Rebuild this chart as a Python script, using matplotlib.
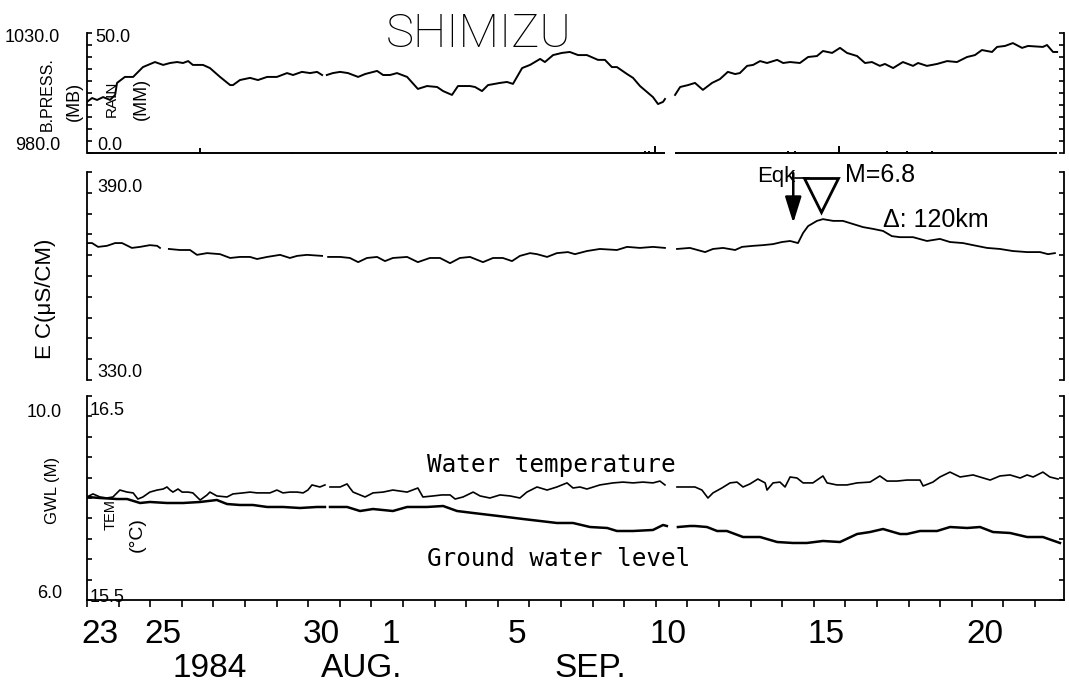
import matplotlib
matplotlib.use("Agg")
import matplotlib.pyplot as plt
import numpy as np

nan = float("nan")

# x = days since 1984 Aug 23 00h ; nan marks a gap in the record
press_pts = [(0.00,1001.3),(0.16,1002.9),(0.32,1002.1),(0.51,1003.3),(0.73,1002.1),(0.89,1004.2),(0.95,1009.2),
    (1.20,1011.7),(1.46,1011.7),(1.77,1015.8),(1.93,1016.7),(2.15,1017.9),(2.41,1016.7),(2.63,1017.5),(2.85,1017.9),
    (3.04,1017.5),(3.20,1018.3),(3.35,1016.7),(3.67,1016.7),(3.89,1015.4),(4.21,1011.7),(4.53,1008.3),(4.62,1008.3),
    (4.84,1010.4),(5.16,1011.3),(5.41,1010.4),(5.70,1011.7),(6.01,1011.7),(6.33,1013.3),(6.52,1012.5),(6.80,1013.8),
    (7.06,1013.3),(7.28,1013.8),(7.44,1012.5),(7.52,nan),(7.59,1012.5),(7.78,1013.3),(8.01,1013.8),(8.26,1013.3),
    (8.58,1011.7),(8.80,1012.9),(9.18,1014.2),(9.37,1012.5),(9.59,1012.5),(9.81,1013.3),(10.13,1011.7),(10.47,1006.7),
    (10.76,1007.9),(11.08,1007.5),(11.27,1005.8),(11.55,1004.2),(11.74,1007.9),(12.12,1007.9),(12.28,1007.5),
    (12.50,1005.8),(12.69,1008.3),(13.07,1009.2),(13.29,1009.6),(13.48,1008.8),(13.77,1015.4),(14.02,1016.7),
    (14.34,1019.2),(14.49,1017.9),(14.75,1020.8),(15.03,1021.7),(15.28,1022.1),(15.54,1020.8),(15.82,1020.8),
    (16.17,1018.8),(16.39,1018.8),(16.61,1015.8),(16.77,1015.8),(17.09,1012.9),(17.28,1011.3),(17.50,1007.9),
    (17.72,1005.4),(17.91,1003.3),(18.07,1000.4),(18.23,1001.3),(18.29,1002.5),(18.45,nan),(18.61,1004.2),
    (18.77,1007.5),(19.02,1008.3),(19.24,1009.2),(19.49,1006.3),(19.78,1009.2),(20.03,1010.8),(20.28,1013.8),
    (20.51,1012.9),(20.66,1013.3),(20.89,1016.3),(21.08,1016.7),(21.30,1018.3),(21.52,1017.5),(21.84,1018.8),
    (22.03,1017.5),(22.25,1017.9),(22.56,1017.5),(22.82,1020.0),(23.10,1020.4),(23.29,1022.5),(23.58,1021.7),
    (23.83,1023.8),(24.05,1021.7),(24.37,1020.4),(24.62,1017.5),(24.84,1017.9),(25.09,1016.3),(25.25,1017.1),
    (25.51,1015.4),(25.82,1017.9),(26.14,1016.3),(26.30,1017.5),(26.58,1016.3),(26.90,1017.1),(27.22,1018.3),
    (27.53,1017.9),(27.85,1020.0),(28.10,1020.8),(28.32,1022.9),(28.64,1022.1),(28.80,1024.2),(29.05,1024.6),
    (29.30,1025.8),(29.59,1023.8),(29.78,1024.6),(30.25,1024.2),(30.38,1025.0),(30.57,1022.1),(30.70,1022.1)]

rain_day = [3.58, 6.52, 17.66, 17.80, 17.97, 22.18, 22.41, 23.80, 25.32, 25.95, 26.74]
rain_mm = [2.0, 0.6, 0.8, 0.8, 3.0, 0.8, 0.8, 3.0, 0.8, 0.8, 0.8]
rain_rec_start = [0.0, 18.61]
rain_rec_end = [18.29, 30.70]

ec_pts = [(0.00,369.5),(0.16,369.5),(0.35,368.4),(0.63,368.7),(0.89,369.5),(1.11,369.5),(1.42,368.1),(1.68,368.4),
    (1.99,368.9),(2.22,368.7),(2.31,368.1),(2.45,nan),(2.59,367.8),(2.94,367.5),(3.26,367.5),(3.48,366.1),(3.80,366.6),
    (4.21,366.3),(4.53,365.2),(4.84,365.5),(5.16,365.5),(5.38,364.9),(5.70,365.5),(6.11,366.1),(6.42,365.2),(6.65,365.8),
    (6.96,366.1),(7.44,365.8),(7.53,nan),(7.63,365.5),(8.01,365.5),(8.32,365.2),(8.58,364.0),(8.86,365.2),(9.18,365.5),
    (9.43,364.3),(9.68,365.2),(10.13,365.5),(10.47,364.0),(10.85,365.2),(11.17,365.2),(11.49,363.7),(11.80,365.2),
    (12.12,365.5),(12.53,364.0),(12.85,365.2),(13.16,365.2),(13.45,364.3),(13.70,365.8),(14.02,366.6),(14.24,366.3),
    (14.56,365.5),(14.87,366.6),(15.22,366.9),(15.44,366.3),(15.82,367.2),(16.23,367.8),(16.77,367.5),(17.09,368.4),
    (17.50,368.1),(17.91,368.4),(18.29,368.1),(18.45,nan),(18.67,367.8),(19.08,368.1),(19.56,366.9),(19.81,367.8),
    (20.13,368.1),(20.51,367.5),(20.73,368.4),(21.08,368.7),(21.39,368.9),(21.71,369.2),(21.99,369.8),(22.25,370.1),
    (22.50,369.5),(22.66,372.4),(22.82,374.4),(23.10,375.9),(23.29,376.4),(23.61,375.9),(23.92,375.9),(24.24,375.0),
    (24.56,374.1),(24.87,373.6),(25.19,373.0),(25.47,371.5),(25.73,371.2),(26.14,371.2),(26.58,370.1),(26.99,370.7),
    (27.31,369.8),(27.72,369.5),(28.04,368.9),(28.48,368.1),(28.89,367.8),(29.30,367.2),(29.75,366.9),(30.16,366.9),
    (30.41,366.3),(30.63,366.6)]

temp_pts = [(0.00,16.005),(0.19,16.020),(0.41,16.005),(0.63,16.000),(0.82,16.005),(1.04,16.039),(1.27,16.029),
    (1.46,16.025),(1.61,15.995),(1.77,16.005),(1.99,16.029),(2.22,16.039),(2.41,16.044),(2.53,16.054),(2.63,16.039),
    (2.72,16.029),(2.88,16.044),(3.01,16.029),(3.20,16.029),(3.35,16.025),(3.58,15.990),(3.80,16.015),(3.89,16.029),
    (4.11,16.010),(4.43,16.005),(4.62,16.020),(4.94,16.025),(5.16,16.029),(5.38,16.025),(5.57,16.025),(5.79,16.025),
    (6.01,16.039),(6.20,16.025),(6.42,16.029),(6.65,16.029),(6.84,16.025),(6.99,16.039),(7.12,16.064),(7.37,16.054),
    (7.53,16.064),(7.61,nan),(7.69,16.054),(8.01,16.054),(8.23,16.069),(8.32,16.049),(8.42,16.029),(8.64,16.015),
    (8.80,16.005),(9.05,16.025),(9.37,16.029),(9.68,16.039),(10.13,16.029),(10.47,16.049),(10.63,16.005),(10.95,16.010),
    (11.23,16.015),(11.49,16.015),(11.65,15.995),(11.90,16.005),(12.22,16.029),(12.44,16.010),(12.75,16.000),
    (13.07,16.015),(13.39,16.010),(13.70,16.000),(13.92,16.029),(14.24,16.054),(14.56,16.039),(14.87,16.054),
    (15.19,16.074),(15.38,16.049),(15.60,16.054),(15.82,16.044),(16.23,16.064),(16.65,16.074),(16.96,16.078),
    (17.28,16.074),(17.59,16.078),(17.91,16.074),(18.13,16.083),(18.29,16.064),(18.45,nan),(18.67,16.054),
    (18.86,16.054),(19.24,16.054),(19.46,16.039),(19.65,16.000),(19.81,16.025),(20.09,16.049),(20.35,16.074),
    (20.57,16.078),(20.76,16.054),(20.98,16.069),(21.23,16.093),(21.46,16.074),(21.52,16.039),(21.71,16.074),
    (21.93,16.078),(22.09,16.054),(22.25,16.103),(22.47,16.098),(22.66,16.074),(22.97,16.074),(23.29,16.108),
    (23.42,16.074),(23.73,16.064),(24.05,16.064),(24.37,16.074),(24.78,16.078),(25.09,16.108),(25.32,16.083),
    (25.63,16.083),(25.95,16.088),(26.36,16.088),(26.46,16.059),(26.77,16.078),(26.99,16.103),(27.31,16.127),
    (27.63,16.103),(28.04,16.113),(28.58,16.088),(28.89,16.108),(29.21,16.113),(29.53,16.098),(29.75,16.113),
    (29.94,16.103),(30.25,16.127),(30.47,16.103),(30.73,16.093)]

gwl_pts = [(0.00,8.020),(0.41,8.000),(0.95,7.980),(1.27,7.980),(1.68,7.902),(1.99,7.922),(2.53,7.902),(3.04,7.902),
    (3.58,7.922),(4.11,7.961),(4.43,7.882),(4.84,7.863),(5.25,7.863),(5.70,7.824),(6.20,7.824),(6.74,7.804),(7.28,7.824),
    (7.53,7.824),(7.61,nan),(7.69,7.824),(8.01,7.824),(8.23,7.824),(8.64,7.745),(9.05,7.784),(9.68,7.745),(10.13,7.824),
    (10.76,7.824),(11.27,7.843),(11.71,7.745),(12.22,7.706),(12.75,7.667),(13.29,7.627),(13.80,7.588),(14.34,7.549),
    (14.87,7.510),(15.38,7.510),(15.92,7.431),(16.46,7.412),(16.77,7.353),(17.28,7.353),(17.91,7.373),(18.23,7.471),
    (18.35,7.451),(18.50,nan),(18.70,7.431),(19.08,7.451),(19.24,7.451),(19.62,7.431),(19.94,7.353),(20.25,7.353),
    (20.76,7.235),(21.30,7.235),(21.84,7.137),(22.34,7.118),(22.78,7.118),(23.29,7.157),(23.83,7.137),(24.37,7.294),
    (24.78,7.333),(25.19,7.392),(25.73,7.294),(25.95,7.294),(26.36,7.353),(26.90,7.353),(27.31,7.431),(27.85,7.412),
    (28.26,7.431),(28.67,7.333),(29.21,7.314),(29.75,7.235),(30.25,7.235),(30.79,7.118)]

eqk_day = 22.35            # 1984 Sep 14 earthquake, M 6.8
date_ticks = [0, 2, 7, 9, 13, 18, 23, 28]
date_labels = ["23", "25", "30", "1", "5", "10", "15", "20"]
month_labels = [("1984", 210), ("AUG.", 362), ("SEP.", 590)]

SANS = ['Liberation Sans', 'DejaVu Sans']
MONO = ['DejaVu Sans Mono']
plt.rcParams['font.family'] = SANS

W, H = 1069, 684
fig = plt.figure(figsize=(W / 100, H / 100), dpi=100)
X0, X1 = 87, 1064
XMAX = (X1 - X0) / 31.6


def rect(top, bottom):
    return [X0 / W, 1 - bottom / H, (X1 - X0) / W, (bottom - top) / H]


def ftext(x, y, s, **kw):
    fig.text(x / W, 1 - y / H, s, **kw)


ax1 = fig.add_axes(rect(33, 153))
ax2 = fig.add_axes(rect(172, 380))
ax3 = fig.add_axes(rect(396, 600))
ax1r = ax1.twinx()
ax3t = ax3.twinx()
for a in (ax1r, ax3t):
    a.set_axis_off()
ax1r.set_ylim(0, 50)
ax3t.set_ylim(15.5, 16.5)


def style(ax, ylo, yhi, step, bottom=False):
    ax.set_xlim(0, XMAX)
    ax.set_ylim(ylo, yhi)
    ax.spines['top'].set_visible(False)
    ax.spines['bottom'].set_visible(bottom)
    for s in ax.spines.values():
        s.set_linewidth(1.3)
    ax.set_yticks(np.arange(ylo, yhi + step / 2, step))
    ax.tick_params(axis='y', direction='in', left=True, right=True,
                   labelleft=False, labelright=False, length=3.5, width=1.2)
    if bottom:
        ax.set_xticks(np.arange(0, 31, 1))
        ax.tick_params(axis='x', direction='out', length=5, width=1.2, labelbottom=False)
    else:
        ax.tick_params(axis='x', bottom=False, labelbottom=False)
    ax.patch.set_visible(False)


style(ax1, 980, 1030, 5)
style(ax2, 330, 390, 6)
style(ax3, 6, 10, 0.4, bottom=True)
for a in (ax1r, ax3t):
    a.set_xlim(0, XMAX)

# data
pd_, pv_ = zip(*press_pts)
ax1.plot(pd_, pv_, color='k', lw=1.4)
ax1r.hlines([0] * len(rain_rec_start), rain_rec_start, rain_rec_end, color='k', lw=1.4, clip_on=False)
ax1r.vlines(rain_day, 0, rain_mm, color='k', lw=1.4)

ed_, ev_ = zip(*ec_pts)
ax2.plot(ed_, ev_, color='k', lw=1.3)

gd_, gv_ = zip(*gwl_pts)
ax3.plot(gd_, gv_, color='k', lw=1.8)
td_, tv_ = zip(*temp_pts)
ax3t.plot(td_, tv_, color='k', lw=1.2)

# earthquake annotation
ax2.annotate('', xy=(eqk_day, 375.3), xytext=(eqk_day, 389.7),
             arrowprops=dict(arrowstyle='-|>,head_length=0.8,head_width=0.25', color='k',
                             lw=1.8, mutation_scale=20, shrinkA=0, shrinkB=0))
ax2.plot([23.23], [383.4], marker='v', ms=24, mfc='none', mec='k', mew=2, clip_on=False)
ax2.plot([22.40, 22.85], [388.2, 388.2], color='k', lw=1.2, clip_on=False)
ftext(757, 182, "Eqk", fontsize=16, va='baseline')
ftext(845, 182, "M=6.8", fontsize=18, va='baseline')
ftext(883, 227, "Δ: 120km", fontsize=18, va='baseline')

# title
ftext(479, 47, "SHIMIZU", fontsize=34, family=['Roboto', 'DejaVu Sans'], fontweight='light',
      ha='center', va='baseline')

# panel 1 labels
lab = dict(fontsize=13, va='baseline')
ftext(60, 42, "1030.0", ha='right', **lab)
ftext(60, 150, "980.0", ha='right', **lab)
ftext(95, 42, "50.0", ha='left', **lab)
ftext(97, 150, "0.0", ha='left', **lab)
rot = dict(rotation=90, ha='center', va='center')
ftext(47, 94, "B.PRESS.", fontsize=11.5, **rot)
ftext(74, 101, "(MB)", fontsize=13, **rot)
ftext(112, 99, "RAIN", fontsize=11, **rot)
ftext(141, 99, "(MM)", fontsize=13, **rot)

# panel 2 labels
ftext(97, 192, "390.0", ha='left', **lab)
ftext(97, 377, "330.0", ha='left', **lab)
ftext(45, 299, "E C(μS/CM)", fontsize=16, **rot)

# panel 3 labels
ftext(62, 417, "10.0", ha='right', **lab)
ftext(62, 598, "6.0", ha='right', **lab)
ftext(90, 415, "16.5", ha='left', **lab)
ftext(90, 602, "15.5", ha='left', **lab)
ftext(52, 490, "GWL (M)", fontsize=12, **rot)
ftext(111, 515, "TEM", fontsize=10.5, **rot)
ftext(137, 535, "(°C)", fontsize=14, **rot)
ftext(427, 472, "Water temperature", fontsize=17.5, family=MONO, va='baseline')
ftext(427, 566, "Ground water level", fontsize=17.5, family=MONO, va='baseline')

# date axis labels
for d, s in zip(date_ticks, date_labels):
    off = 0.40 if len(s) == 2 else 0.60
    ax3.text(d + off, -0.21, s, transform=ax3.get_xaxis_transform(), fontsize=24,
             ha='center', va='baseline')
for s, xp in month_labels:
    ftext(xp, 677, s, fontsize=24, ha='center', va='baseline')

fig.savefig("out.png", dpi=100, facecolor='white')
